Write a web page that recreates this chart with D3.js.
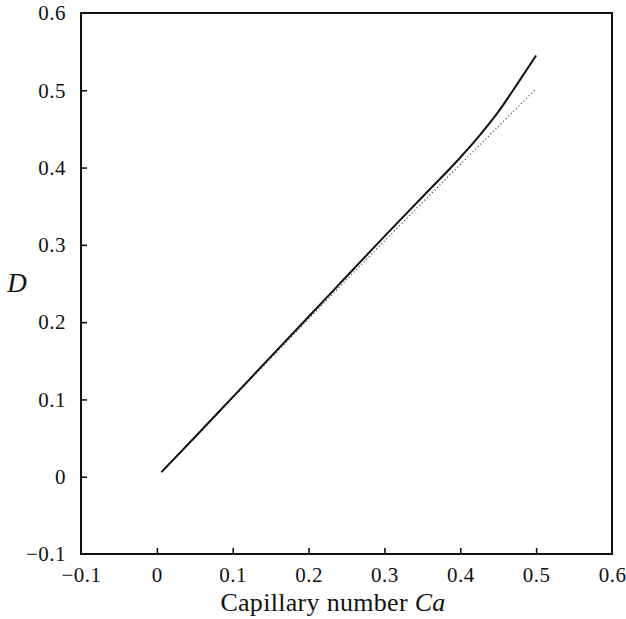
<!DOCTYPE html>
<html>
<head>
<meta charset="utf-8">
<script src="https://cdn.jsdelivr.net/npm/d3@7"></script>
<style>
  html, body { margin: 0; padding: 0; background: #fff; }
  svg { display: block; }
</style>
</head>
<body>
<svg id="chart" width="626" height="619"></svg>
<script>
// Deformation D against capillary number Ca
const caFull = [0.006, 0.05, 0.1, 0.15, 0.2, 0.25, 0.3, 0.35, 0.4, 0.425, 0.45, 0.475, 0.5];
const dFull  = [0.006, 0.051, 0.103, 0.155, 0.207, 0.259, 0.311, 0.362, 0.413, 0.441, 0.472, 0.508, 0.545];

// Small-deformation (linear) estimate
const caLinear = [0.006, 0.1, 0.2, 0.3, 0.4, 0.5];
const dLinear  = [0.006, 0.102, 0.204, 0.305, 0.404, 0.502];

const xTicks = [-0.1, 0, 0.1, 0.2, 0.3, 0.4, 0.5, 0.6];
const yTicks = [-0.1, 0, 0.1, 0.2, 0.3, 0.4, 0.5, 0.6];

const serif = '"Liberation Serif"';
const ink = "#111";

const svg = d3.select("#chart");
const plotLeft = 81, plotRight = 612, plotTop = 13, plotBottom = 554;

const x = d3.scaleLinear().domain([-0.1, 0.6]).range([plotLeft, plotRight]);
const y = d3.scaleLinear().domain([-0.1, 0.6]).range([plotBottom, plotTop]);

const fmt = v => v === 0 ? "0" : (v < 0 ? "\u2212" + d3.format(".1f")(-v) : d3.format(".1f")(v));

function styleAxis(g) {
  g.attr("font-family", null).attr("font-size", null);
  g.select(".domain").remove();
  g.selectAll(".tick line").attr("stroke", ink).attr("stroke-width", 1.6);
  g.selectAll(".tick text")
    .style("font-family", serif)
    .style("font-size", "21px")
    .style("letter-spacing", "0.5px")
    .attr("fill", ink);
  g.selectAll(".tick").filter(d => d === -0.1 || d === 0.6).select("line").remove();
}

// Bottom axis: inward ticks
const xAxis = d3.axisBottom(x).tickValues(xTicks).tickSizeInner(-6).tickSizeOuter(0).tickPadding(13).tickFormat(fmt);
svg.append("g").attr("transform", `translate(0,${plotBottom})`).call(xAxis).call(styleAxis);

// Left axis: inward ticks
const yAxis = d3.axisLeft(y).tickValues(yTicks).tickSizeInner(-6).tickSizeOuter(0).tickPadding(15).tickFormat(fmt);
svg.append("g").attr("transform", `translate(${plotLeft},0)`).call(yAxis).call(styleAxis);

// Frame
svg.append("rect")
  .attr("x", plotLeft).attr("y", plotTop)
  .attr("width", plotRight - plotLeft).attr("height", plotBottom - plotTop)
  .attr("fill", "none").attr("stroke", ink).attr("stroke-width", 2);

const line = d3.line().x(d => x(d[0])).y(d => y(d[1])).curve(d3.curveMonotoneX);

svg.append("path")
  .datum(caLinear.map((c, i) => [c, dLinear[i]]))
  .attr("d", line)
  .attr("fill", "none")
  .attr("stroke", "#333")
  .attr("stroke-width", 1.2)
  .attr("stroke-dasharray", "1,2.6");

svg.append("path")
  .datum(caFull.map((c, i) => [c, dFull[i]]))
  .attr("d", line)
  .attr("fill", "none")
  .attr("stroke", ink)
  .attr("stroke-width", 2);

// Axis titles
const xt = svg.append("text")
  .attr("x", 333).attr("y", 611)
  .attr("text-anchor", "middle")
  .style("font-family", serif).style("font-size", "26px").style("letter-spacing", "0.3px")
  .attr("fill", ink);
xt.append("tspan").text("Capillary number ");
xt.append("tspan").style("font-style", "italic").text("Ca");

svg.append("text")
  .attr("x", 17).attr("y", 292)
  .attr("text-anchor", "middle")
  .style("font-family", serif).style("font-size", "27px").style("font-style", "italic")
  .attr("fill", ink)
  .text("D");
</script>
</body>
</html>
